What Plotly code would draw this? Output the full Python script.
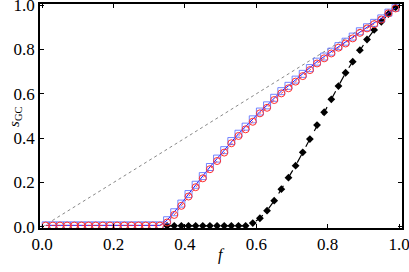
import plotly.graph_objects as go

# f values: 0.01, 0.03, ..., 0.99
f_all = [round(0.01 + 0.02 * k, 2) for k in range(50)]

# red circles (series 1)
red_vals = [0.006] * 17 + [
    0.02, 0.054, 0.095, 0.137, 0.179, 0.219, 0.26, 0.297, 0.335, 0.377,
    0.41, 0.44, 0.474, 0.512, 0.537, 0.572, 0.602, 0.625, 0.655, 0.68,
    0.707, 0.737, 0.76, 0.782, 0.808, 0.827, 0.85, 0.875, 0.895, 0.914,
    0.935, 0.963, 0.985]

# blue squares (series 2)
blue_vals = [0.007] * 17 + [
    0.03, 0.066, 0.105, 0.148, 0.19, 0.229, 0.27, 0.308, 0.346, 0.387,
    0.42, 0.452, 0.485, 0.52, 0.548, 0.582, 0.612, 0.636, 0.664, 0.69,
    0.716, 0.745, 0.768, 0.79, 0.815, 0.835, 0.858, 0.882, 0.9, 0.92,
    0.94, 0.966, 0.988]

# black diamonds (series 3), from f = 0.35
f_black = f_all[17:]
black_vals = [0.005] * 12 + [
    0.017, 0.039, 0.073, 0.118, 0.17, 0.222, 0.276, 0.336, 0.396, 0.459,
    0.517, 0.575, 0.635, 0.695, 0.745, 0.797, 0.845, 0.888, 0.925, 0.96,
    0.99]

diag_x = [0.0, 1.0]
diag_y = [0.0, 1.0]

tick_vals = [0, 0.2, 0.4, 0.6, 0.8, 1.0]
tick_text = ["0.0", "0.2", "0.4", "0.6", "0.8", "1.0"]

SERIF = "'Times New Roman', 'Liberation Serif', serif"

fig = go.Figure()
fig.add_trace(go.Scatter(x=diag_x, y=diag_y, mode="lines",
                         line=dict(color="#888888", width=1, dash="dot"),
                         showlegend=False))
fig.add_trace(go.Scatter(x=f_black, y=black_vals, mode="lines+markers",
                         line=dict(color="black", width=1.2, dash="dash"),
                         marker=dict(symbol="diamond", size=6, color="black"),
                         showlegend=False))
fig.add_trace(go.Scatter(x=f_all, y=blue_vals, mode="lines+markers",
                         line=dict(color="#1a1aff", width=1),
                         marker=dict(symbol="square-open", size=7,
                                     color="rgba(90,110,255,0.85)",
                                     line=dict(width=1)),
                         showlegend=False))
fig.add_trace(go.Scatter(x=f_all, y=red_vals, mode="lines+markers",
                         line=dict(color="#ff2020", width=0.8, dash="dot"),
                         marker=dict(symbol="circle-open", size=7,
                                     color="#ff3030", line=dict(width=1)),
                         showlegend=False))

axis_common = dict(showgrid=False, zeroline=False, showline=True,
                   linecolor="black", linewidth=1.5, mirror="ticks",
                   ticks="inside", ticklen=4, tickwidth=1.2, tickcolor="black",
                   automargin=False, ticklabeloverflow="allow",
                   tickvals=tick_vals, ticktext=tick_text,
                   tickfont=dict(family=SERIF, size=17, color="black"))

fig.update_xaxes(range=[-0.006, 1.008], **axis_common)
fig.update_yaxes(range=[-0.005, 1.005], **axis_common)

fig.add_annotation(text="<i>f</i>", xref="paper", yref="paper", x=0.5, y=-0.12,
                   showarrow=False, xanchor="center", yanchor="middle",
                   font=dict(family=SERIF, size=16, color="black"))
fig.add_annotation(text="<i>s</i><sub>GC</sub>", xref="paper", yref="paper",
                   x=-0.069, y=0.496, textangle=-90,
                   showarrow=False, xanchor="center", yanchor="middle",
                   font=dict(family=SERIF, size=15, color="black"))

fig.update_layout(width=409, height=272, paper_bgcolor="white", plot_bgcolor="white",
                  font=dict(family=SERIF, color="black"),
                  margin=dict(l=40, r=7, t=4, b=44))

fig.write_html("out.html", config={"displayModeBar": False},
               post_script="document.body.style.margin='0';document.body.style.padding='0';")
